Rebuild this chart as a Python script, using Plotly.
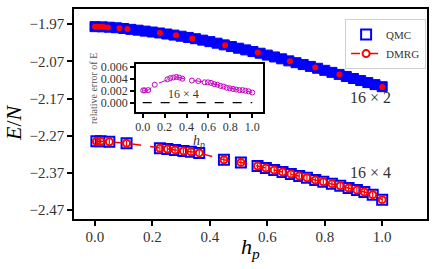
import plotly.graph_objects as go

# ---- data ----
hp_qmc_16x2 = [0.000, 0.025, 0.050, 0.075, 0.100, 0.125, 0.150, 0.175, 0.200, 0.225,
               0.250, 0.275, 0.300, 0.325, 0.350, 0.375, 0.400, 0.425, 0.450, 0.475,
               0.500, 0.525, 0.550, 0.575, 0.600, 0.625, 0.650, 0.675, 0.700, 0.725,
               0.750, 0.775, 0.800, 0.825, 0.850, 0.875, 0.900, 0.925, 0.950, 0.975, 1.000]
E_qmc_16x2 = [-1.9765, -1.9770, -1.9780, -1.9795, -1.9815, -1.9838, -1.9860, -1.9885, -1.9910, -1.9935,
              -1.9963, -1.9992, -2.0022, -2.0055, -2.0090, -2.0128, -2.0168, -2.0210, -2.0255, -2.0300,
              -2.0345, -2.0390, -2.0435, -2.0480, -2.0530, -2.0580, -2.0630, -2.0685, -2.0735, -2.0785,
              -2.0835, -2.0885, -2.0940, -2.0995, -2.1050, -2.1105, -2.1160, -2.1215, -2.1270, -2.1325, -2.1380]

hp_dmrg_16x2 = [0.0, 0.01, 0.02, 0.03, 0.045, 0.085, 0.113, 0.226, 0.282, 0.339,
                0.453, 0.567, 0.679, 0.767, 0.851, 1.0]
E_dmrg_16x2 = [-1.9765, -1.9766, -1.9770, -1.9775, -1.9785, -1.9808, -1.9826, -1.9934, -1.9996, -2.0086,
               -2.0265, -2.0463, -2.0695, -2.0867, -2.1055, -2.1390]

hp_16x4 = [0.005, 0.02, 0.05, 0.11, 0.226, 0.252, 0.279, 0.308, 0.334, 0.363,
           0.449, 0.508, 0.566, 0.595, 0.624, 0.653, 0.682, 0.711, 0.738, 0.767,
           0.795, 0.825, 0.854, 0.883, 0.912, 0.938, 0.967, 1.0]
E_qmc_16x4 = [-2.2848, -2.2848, -2.2861, -2.2902, -2.3036, -2.3058, -2.3082, -2.3109, -2.3130, -2.3162,
              -2.3345, -2.3418, -2.3515, -2.3569, -2.3622, -2.3676, -2.3730, -2.3783, -2.3829, -2.3891,
              -2.3937, -2.3990, -2.4044, -2.4106, -2.4160, -2.4213, -2.4285, -2.4420]
E_dmrg_16x4 = [-2.2848, -2.2848, -2.2861, -2.2902, -2.3036, -2.3058, -2.3082, -2.3109, -2.3130, -2.3162,
               -2.3345, -2.3418, -2.3515, -2.3569, -2.3622, -2.3676, -2.3730, -2.3783, -2.3829, -2.3891,
               -2.3937, -2.3990, -2.4044, -2.4106, -2.4160, -2.4213, -2.4285, -2.4420]
err_dmrg_16x4 = [0.007] * 28
rel_err_16x4 = [0.00206, 0.00206, 0.0021, 0.0030, 0.0039, 0.0041, 0.0042, 0.0043, 0.0042, 0.0040,
                0.0037, 0.0036, 0.0034, 0.0034, 0.0033, 0.0031, 0.0030, 0.0028, 0.0027, 0.0025,
                0.0024, 0.0023, 0.0022, 0.0021, 0.0021, 0.0020, 0.0019, 0.0017]
hp_zero_line = [0.0, 1.0]
zero_line = [0.0, 0.0]

y_ticks = [-1.97, -2.07, -2.17, -2.27, -2.37, -2.47]
y_tick_text = ["\u22121.97", "\u22122.07", "\u22122.17", "\u22122.27", "\u22122.37", "\u22122.47"]
x_ticks = [0.0, 0.2, 0.4, 0.6, 0.8, 1.0]
inset_y_ticks = [0.0, 0.002, 0.004, 0.006]

FONT = "Liberation Serif"
BLUE = "#0000FF"
RED = "#FF0000"
MAG = "#BF00BF"

fig = go.Figure()

# 16x2
fig.add_trace(go.Scatter(x=hp_qmc_16x2, y=E_qmc_16x2, mode="markers",
                         marker=dict(symbol="square", size=10, color=BLUE,
                                     line=dict(color=BLUE, width=1)),
                         showlegend=False, xaxis="x", yaxis="y"))
fig.add_trace(go.Scatter(x=hp_dmrg_16x2, y=E_dmrg_16x2, mode="markers",
                         marker=dict(symbol="circle", size=6, color=RED, line=dict(width=0)),
                         showlegend=False, xaxis="x", yaxis="y"))
# 16x4
fig.add_trace(go.Scatter(x=hp_16x4, y=E_qmc_16x4, mode="markers", name="QMC",
                         marker=dict(symbol="square", size=10, color="white",
                                     line=dict(color=BLUE, width=2)),
                         xaxis="x", yaxis="y"))
fig.add_trace(go.Scatter(x=hp_16x4, y=E_dmrg_16x4, mode="lines+markers", name="DMRG",
                         line=dict(color=RED, width=1.5, dash="dash"),
                         marker=dict(symbol="circle-open", size=7, color=RED,
                                     line=dict(color=RED, width=2)),
                         error_y=dict(type="data", array=err_dmrg_16x4, color=RED,
                                      thickness=1.2, width=0),
                         xaxis="x", yaxis="y"))

# inset
fig.add_trace(go.Scatter(x=hp_16x4, y=rel_err_16x4, mode="lines+markers",
                         line=dict(color=MAG, width=1, dash="dash"),
                         marker=dict(symbol="circle-open", size=5, color=MAG,
                                     line=dict(color=MAG, width=1)),
                         showlegend=False, xaxis="x2", yaxis="y2"))
fig.add_trace(go.Scatter(x=hp_zero_line, y=zero_line, mode="lines",
                         line=dict(color="black", width=1.2, dash="dash"),
                         showlegend=False, xaxis="x2", yaxis="y2"))

axis_common = dict(showline=True, linecolor="black", linewidth=1.5, mirror=True,
                   ticks="outside", tickcolor="black", tickwidth=1.5, showgrid=False,
                   zeroline=False, automargin=False)

ann = dict(showarrow=False, xanchor="center", yanchor="middle")

fig.update_layout(
    width=436, height=269,
    margin=dict(l=74, r=9, t=9, b=50, pad=0, autoexpand=False),
    paper_bgcolor="white", plot_bgcolor="white",
    font=dict(family=FONT, color="black"),
    xaxis=dict(domain=[0, 1], range=[-0.073, 1.156], tickvals=x_ticks, tickformat=".1f",
               ticklen=5, ticklabelstandoff=-2, tickfont=dict(size=15, color="#333"), **axis_common),
    yaxis=dict(domain=[0, 1], range=[-2.494, -1.929], tickvals=y_ticks, ticktext=y_tick_text,
               ticklen=5, tickfont=dict(size=15, color="#333"), **axis_common),
    xaxis2=dict(domain=[0.1756, 0.536], anchor="y2", range=[-0.061, 1.1], tickvals=x_ticks,
                tickformat=".1f", ticklen=4, ticklabelstandoff=-1,
                tickfont=dict(size=12, color="#333"), **axis_common),
    yaxis2=dict(domain=[0.508, 0.738], anchor="x2", range=[-0.0016, 0.00645],
                tickvals=inset_y_ticks, tickformat=".3f", ticklen=4,
                tickfont=dict(size=12, color="#333"), **axis_common),
    legend=dict(x=0.768, y=0.952, xanchor="left", yanchor="top",
                bgcolor="white", bordercolor="#d0d0d0", borderwidth=1,
                font=dict(family=FONT, size=11, color="#333"),
                itemwidth=30, tracegroupgap=0),
    showlegend=True,
    annotations=[
        dict(text="16 \u00d7 2", x=0.958, y=-2.168, xref="x", yref="y",
             font=dict(size=16, color="#333"), **ann),
        dict(text="16 \u00d7 4", x=0.958, y=-2.3687, xref="x", yref="y",
             font=dict(size=16, color="#333"), **ann),
        dict(text="16 \u00d7 4", x=0.377, y=0.00144, xref="x2", yref="y2",
             font=dict(size=12, color="#333"), **ann),
        dict(text="<i>h<sub>p</sub></i>", x=0.354, y=0.371, xref="paper", yref="paper",
             font=dict(size=14, color="#333"), **ann),
        dict(text="relative error of E", x=0.054, y=0.619, xref="paper", yref="paper",
             textangle=-90, font=dict(size=10, color="#555"), **ann),
        dict(text="<i>E</i>/<i>N</i>", x=-0.17, y=0.462, xref="paper", yref="paper",
             textangle=-90, font=dict(size=22, color="black"), **ann),
        dict(text="<i>h<sub>p</sub></i>", x=0.501, y=-0.14, xref="paper", yref="paper",
             font=dict(size=22, color="black"), **ann),
    ],
)

# remove the default 8px page margin so the figure fills the window exactly
fig.write_html("out.html", config={"displayModeBar": False},
               post_script="document.body.style.margin='0';document.body.style.overflow='hidden';")
